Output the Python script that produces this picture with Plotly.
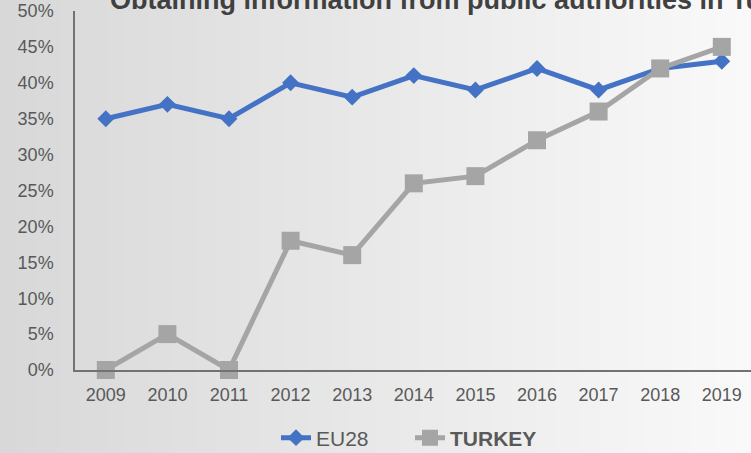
import plotly.graph_objects as go

# Share of individuals obtaining information from public authorities
years = [2009, 2010, 2011, 2012, 2013, 2014, 2015, 2016, 2017, 2018, 2019]
eu28 = [35, 37, 35, 40, 38, 41, 39, 42, 39, 42, 43]
turkey = [0, 5, 0, 18, 16, 26, 27, 32, 36, 42, 45]
y_ticks = [0, 5, 10, 15, 20, 25, 30, 35, 40, 45, 50]
y_tick_text = [f"{v}%" for v in y_ticks]
title_text = "Obtaining information from public authorities in Turkey"

W, H = 751, 453
ML, MR, MT, MB = 75, 0, 11, 83
plot_w = W - ML - MR
plot_h = H - MT - MB

fig = go.Figure()
fig.add_trace(go.Scatter(
    x=years, y=eu28, name="EU28", mode="lines+markers",
    line=dict(color="#4472C4", width=5),
    marker=dict(symbol="diamond", size=13, color="#4472C4"),
    cliponaxis=False,
))
fig.add_trace(go.Scatter(
    x=years, y=turkey, name="<b>TURKEY</b>", mode="lines+markers",
    line=dict(color="#A5A5A5", width=5),
    marker=dict(symbol="square", size=18, color="#A5A5A5"),
    cliponaxis=False,
))

# horizontal background gradient from light grey to near white
def px_to_paper_x(px):
    return (px - ML) / plot_w

def px_to_paper_y(py):
    return (H - MB - py) / plot_h

shapes = []
n = 150
c0, c1 = 0xD8, 0xF9
for i in range(n):
    t = i / (n - 1)
    c = round(c0 + (c1 - c0) * t)
    col = f"rgb({c},{c},{c})"
    x0 = W * i / n
    x1 = W * (i + 1) / n + 1
    shapes.append(dict(
        type="rect", xref="paper", yref="paper", layer="below",
        x0=px_to_paper_x(x0), x1=px_to_paper_x(x1),
        y0=px_to_paper_y(H), y1=px_to_paper_y(0),
        fillcolor=col, line=dict(width=0),
    ))

fig.update_layout(
    width=W, height=H,
    margin=dict(l=ML, r=MR, t=MT, b=MB, pad=0, autoexpand=False),
    paper_bgcolor="#ffffff",
    plot_bgcolor="rgba(0,0,0,0)",
    font=dict(family="Liberation Sans, Arial, sans-serif", color="#595959"),
    shapes=shapes,
    showlegend=True,
    legend=dict(
        orientation="h", xref="container", yref="container",
        x=276 / W, y=(H - 438) / H,
        xanchor="left", yanchor="middle",
        font=dict(size=21, color="#595959"),
        bgcolor="rgba(0,0,0,0)", itemwidth=30,
        entrywidth=89, entrywidthmode="pixels",
    ),
    annotations=[dict(
        text=f"<b>{title_text}</b>", xref="paper", yref="paper",
        x=px_to_paper_x(108), y=px_to_paper_y(0),
        xanchor="left", yanchor="middle", showarrow=False,
        font=dict(size=27, color="#404040"),
    )],
)

fig.update_xaxes(
    range=[2008.5, 2008.5 + plot_w / 61.6],
    tickvals=years, ticktext=[str(y) for y in years],
    showgrid=False, zeroline=False,
    showline=True, linecolor="#767171", linewidth=1.5,
    ticks="", ticklabelstandoff=8,
    tickfont=dict(size=18, color="#595959"),
)
fig.update_yaxes(
    range=[0, 50], tickvals=y_ticks, ticktext=y_tick_text,
    showgrid=False, zeroline=False,
    showline=True, linecolor="#767171", linewidth=1.5,
    ticks="", ticklabelstandoff=16,
    tickfont=dict(size=18, color="#595959"),
)

fig.write_html("out.html")
